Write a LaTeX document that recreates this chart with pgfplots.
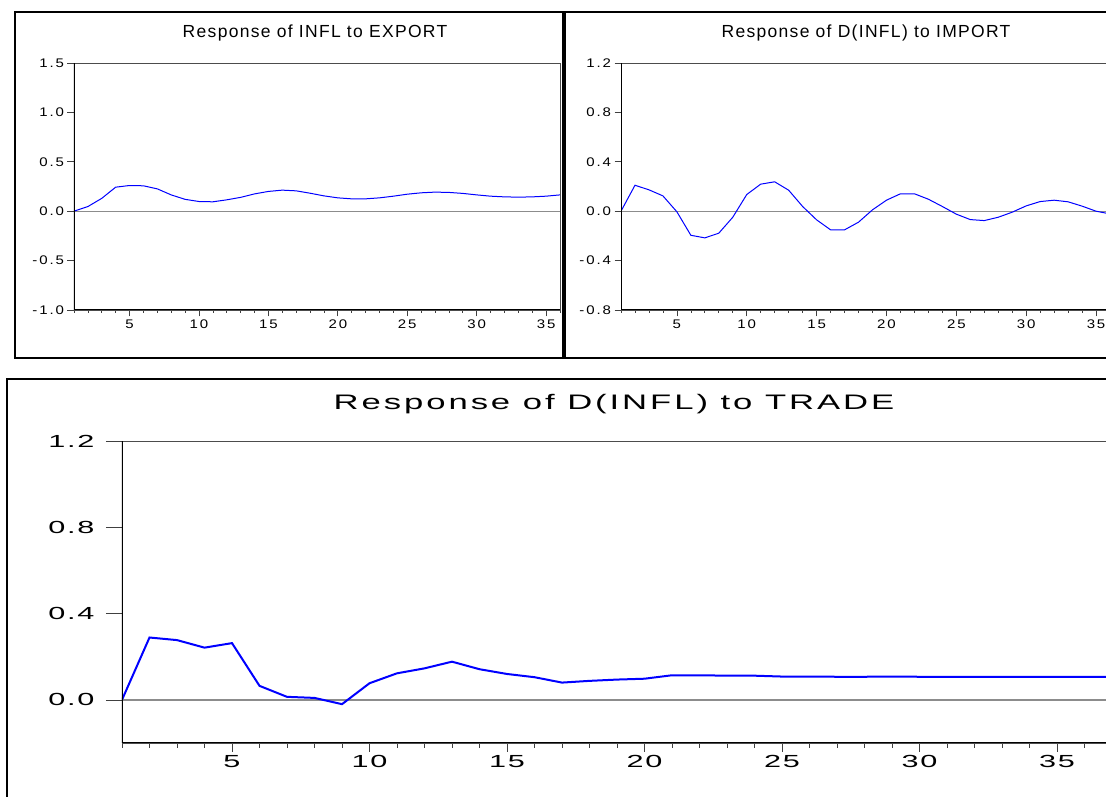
\documentclass[border=0pt]{standalone}
\usepackage{fontspec}
\setmainfont{Liberation Sans}
\newfontfamily\ttitle{Liberation Sans}[LetterSpace=7.5]
\newfontfamily\ttick{Liberation Sans}[FakeStretch=1.2,LetterSpace=15]
\newfontfamily\btitle{Liberation Sans}[FakeStretch=1.65,LetterSpace=14]
\newfontfamily\btick{Liberation Sans}[FakeStretch=1.75,LetterSpace=10]
\usepackage{pgfplots}
\pgfplotsset{compat=1.18}
\usepackage{pgfplotstable}

\pgfplotstableread{
x y
1 0.000
2 0.047
3 0.130
4 0.243
5 0.260
6 0.257
7 0.226
8 0.165
9 0.120
10 0.098
11 0.095
12 0.115
13 0.140
14 0.175
15 0.200
16 0.213
17 0.206
18 0.182
19 0.155
20 0.135
21 0.125
22 0.125
23 0.135
24 0.152
25 0.172
26 0.186
27 0.193
28 0.190
29 0.180
30 0.165
31 0.152
32 0.145
33 0.142
34 0.145
35 0.152
36 0.165
}\export

\pgfplotstableread{
x y
1 0.000
2 0.210
3 0.173
4 0.124
5 -0.005
6 -0.195
7 -0.216
8 -0.178
9 -0.049
10 0.135
11 0.219
12 0.238
13 0.170
14 0.038
15 -0.070
16 -0.151
17 -0.151
18 -0.089
19 0.011
20 0.089
21 0.141
22 0.141
23 0.097
24 0.038
25 -0.024
26 -0.068
27 -0.076
28 -0.049
29 -0.008
30 0.043
31 0.078
32 0.089
33 0.076
34 0.041
35 0.000
36 -0.022
}\import

\pgfplotstableread{
x y
1 0.000
2 0.289
3 0.277
4 0.242
5 0.263
6 0.065
7 0.014
8 0.009
9 -0.020
10 0.077
11 0.123
12 0.146
13 0.177
14 0.142
15 0.120
16 0.105
17 0.080
18 0.088
19 0.094
20 0.098
21 0.114
22 0.114
23 0.112
24 0.112
25 0.108
26 0.108
27 0.107
28 0.107
29 0.108
30 0.107
31 0.107
32 0.107
33 0.107
34 0.107
35 0.107
36 0.107
37 0.107
}\trade

\pgfplotsset{
  ev/.style={
    scale only axis, anchor=south west,
    axis line style={black!70, line width=0.9pt},
    tick align=outside,
    xtick pos=bottom, ytick pos=left,
    tick style={black!75, line width=0.7pt},
    xtick={5,10,...,35},
    xticklabels={5,10,15,20,25,30,35},
    minor xtick={1,...,37},
    /pgf/number format/assume math mode=true,
  }
}

\begin{document}
\begin{tikzpicture}
\useasboundingbox (0pt,0pt) rectangle (1106pt,797pt);
\clip (0pt,0pt) rectangle (1106pt,797pt);

% frames
\draw[black, line width=2pt] (15pt,439pt) rectangle (563pt,785pt);
\draw[black, line width=2pt] (565pt,439pt) rectangle (1120pt,785pt);
\draw[black, line width=2pt] (7pt,-10pt) rectangle (1120pt,418pt);

% titles
\node[anchor=base, inner sep=0pt, font={\ttitle\fontsize{17.5pt}{20pt}\selectfont}] at (315pt,759pt) {Response of INFL to EXPORT};
\node[anchor=base, inner sep=0pt, font={\ttitle\fontsize{17.5pt}{20pt}\selectfont}] at (866pt,759pt) {Response of D(INFL) to IMPORT};
\node[anchor=base, inner sep=0pt, font={\btitle\fontsize{21pt}{24pt}\selectfont}] at (614pt,387pt) {Response of D(INFL) to TRADE};

% top-left
\begin{axis}[ev, at={(74pt,487pt)}, width=486pt, height=247pt,
  xmin=1, xmax=36, ymin=-1, ymax=1.5,
  ytick={-1,-0.5,0,0.5,1,1.5},
  yticklabels={-1.0,-0.5,0.0,0.5,1.0,1.5},
  major tick length=6.5pt, minor tick length=3pt,
  tick label style={font={\ttick\fontsize{12.5pt}{14pt}\selectfont}}]
\draw[black!45, line width=1pt] (axis cs:1,0) -- (axis cs:36,0);
\addplot[blue, line width=1pt] table[x=x,y=y] {\export};
\draw[black, line width=1.2pt] (rel axis cs:0,0) -- (rel axis cs:0,1);
\draw[black, line width=1.1pt] (rel axis cs:0,0) -- (rel axis cs:1,0);
\end{axis}

% top-right
\begin{axis}[ev, at={(621pt,487pt)}, width=489pt, height=247pt,
  xmin=1, xmax=36, ymin=-0.8, ymax=1.2,
  ytick={-0.8,-0.4,0,0.4,0.8,1.2},
  yticklabels={-0.8,-0.4,0.0,0.4,0.8,1.2},
  major tick length=6.5pt, minor tick length=3pt,
  tick label style={font={\ttick\fontsize{12.5pt}{14pt}\selectfont}}]
\draw[black!45, line width=1pt] (axis cs:1,0) -- (axis cs:36,0);
\addplot[blue, line width=1pt] table[x=x,y=y] {\import};
\draw[black, line width=1.2pt] (rel axis cs:0,0) -- (rel axis cs:0,1);
\draw[black, line width=1.1pt] (rel axis cs:0,0) -- (rel axis cs:1,0);
\end{axis}

% bottom
\begin{axis}[ev, at={(122pt,54pt)}, width=990pt, height=302pt,
  xmin=1, xmax=37, ymin=-0.2, ymax=1.2,
  ytick={0,0.4,0.8,1.2},
  yticklabels={0.0,0.4,0.8,1.2},
  major tick length=9pt, minor tick length=5pt,
  ytick style={/pgfplots/major tick length=16pt},
  yticklabel style={xshift=-15pt},
  tick label style={font={\btick\fontsize{17.5pt}{20pt}\selectfont}}]
\draw[black!45, line width=1.3pt] (axis cs:1,0) -- (axis cs:37,0);
\addplot[blue, line width=2pt] table[x=x,y=y] {\trade};
\draw[black, line width=1.8pt] (rel axis cs:0,0) -- (rel axis cs:0,1);
\draw[black, line width=1.3pt] (rel axis cs:0,0) -- (rel axis cs:1,0);
\end{axis}
\end{tikzpicture}
\end{document}
